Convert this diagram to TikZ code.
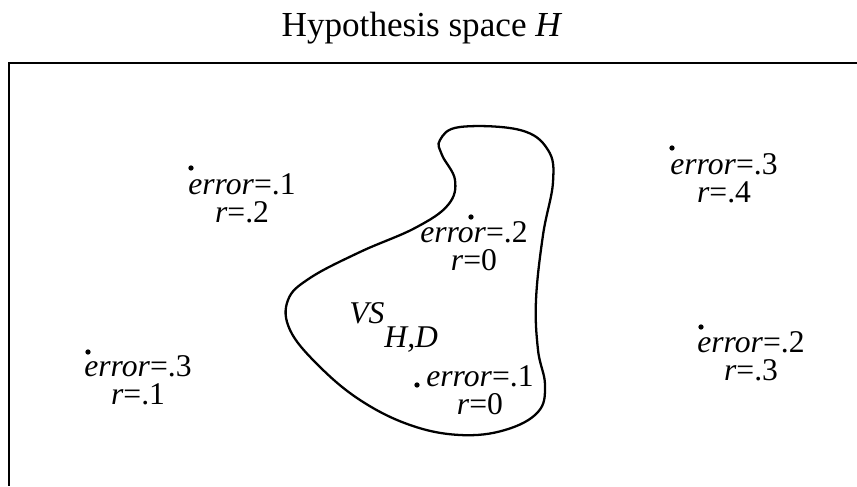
\documentclass[tikz,border=0pt]{standalone}
\usepackage{fontspec}
\setmainfont{Liberation Serif}
\usepackage{tikz}
\usetikzlibrary{positioning}

\begin{document}
\begin{tikzpicture}[
  x=0.02cm, y=-0.02cm,
  hyp/.style={align=center, inner sep=0pt, font=\fontsize{18}{16}\selectfont},
  hdot/.style={circle, fill, inner sep=0pt, minimum size=3pt},
  frame/.style={line width=1.5pt},
  vspace/.style={line width=1.3pt}
]
\useasboundingbox (0,0) rectangle (857,486);
% the space H
\node[anchor=base, font=\fontsize{20}{22}\selectfont] (title) at (422,37) {Hypothesis space \textit{H}};
\draw[frame] (857,63) -- (9,63) -- (9,486);
% version space
\draw[vspace] plot[smooth cycle, tension=0.65] coordinates {
  (440,140) (460,127) (520,130) (548,150) (553,182) (543,235) (536,300)
  (538,350) (545,385) (538,412) (505,430) (460,435) (410,425) (360,400)
  (318,365) (290,330) (288,300) (310,278) (360,252) (415,228) (448,205)
  (455,180) (442,155)};
\node[anchor=base west, inner sep=0pt, font=\fontsize{18}{16}\selectfont] (vs) at (349,323)
  {\textit{VS}\raisebox{-14pt}{\textit{H,D}}};
% hypotheses
\node[hdot] (dA) at (191,168) {};
\node[hyp] (hA) at (242,198) {\textit{error}=.1\\\textit{r}=.2};
\node[hdot] (dB) at (471,217) {};
\node[hyp] (hB) at (474,246) {\textit{error}=.2\\\textit{r}=0};
\node[hdot] (dC) at (417,385) {};
\node[hyp] (hC) at (480,390.5) {\textit{error}=.1\\\textit{r}=0};
\node[hdot] (dD) at (88,352) {};
\node[hyp] (hD) at (138,380) {\textit{error}=.3\\\textit{r}=.1};
\node[hdot] (dE) at (672,148) {};
\node[hyp] (hE) at (724,178) {\textit{error}=.3\\\textit{r}=.4};
\node[hdot] (dF) at (701,327) {};
\node[hyp] (hF) at (751,356.5) {\textit{error}=.2\\\textit{r}=.3};
\end{tikzpicture}
\end{document}
